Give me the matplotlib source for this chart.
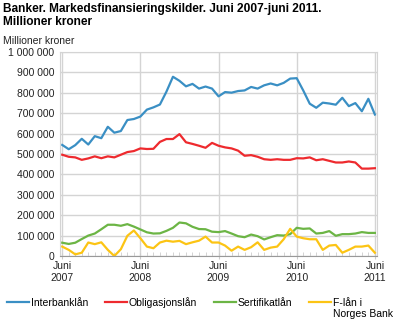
import matplotlib
matplotlib.use("Agg")
import matplotlib.pyplot as plt

plt.rcParams['font.family'] = ['Liberation Sans', 'DejaVu Sans']

# months from Juni 2007 to Juni 2011 (index 0..48), millioner kroner
months = list(range(49))
interbank = [544, 523, 543, 574, 546, 587, 577, 633, 604, 612, 666, 671, 683,
             717, 728, 742, 805, 878, 858, 831, 843, 820, 830, 820, 782,
             803, 800, 808, 811, 828, 820, 836, 845, 836, 848, 869, 871,
             811, 746, 726, 751, 747, 741, 775, 734, 749, 709, 770, 693]
obligasjon = [496, 486, 483, 471, 478, 488, 479, 488, 483, 496, 509, 514, 527,
              524, 525, 559, 573, 573, 597, 557, 549, 540, 530, 554, 540,
              532, 527, 516, 491, 494, 486, 474, 471, 474, 471, 471, 479,
              478, 483, 469, 474, 466, 458, 458, 463, 458, 428, 428, 430]
sertifikat = [65, 59, 65, 83, 100, 110, 131, 153, 153, 148, 156, 144, 130,
              116, 110, 111, 123, 138, 164, 160, 143, 132, 131, 119, 117,
              122, 110, 97, 92, 105, 97, 81, 92, 102, 100, 107, 138,
              133, 135, 110, 113, 122, 99, 107, 107, 110, 117, 113, 113]
flan = [46, 30, 8, 16, 66, 58, 67, 30, 0, 33, 99, 125, 87,
        46, 38, 66, 75, 70, 74, 58, 67, 75, 95, 66, 66,
        51, 26, 46, 30, 43, 67, 30, 41, 46, 82, 133, 95,
        87, 82, 82, 30, 51, 54, 16, 30, 46, 46, 51, 16]

series = [
    (interbank, '#3a8fc4', 'Interbanklån'),
    (obligasjon, '#ee2a2e', 'Obligasjonslån'),
    (sertifikat, '#6cb545', 'Sertifikatlån'),
    (flan, '#fcc414', 'F-lån i'),
]

xticks = [0, 12, 24, 36, 48]
xticklabels = ['Juni\n2007', 'Juni\n2008', 'Juni\n2009', 'Juni\n2010', 'Juni\n2011']
yticks = list(range(0, 1000001, 100000))
yticklabels = ['{:,}'.format(v).replace(',', ' ') for v in yticks]

fig = plt.figure(figsize=(3.97, 3.22), dpi=100)
ax = fig.add_axes([0.151, 0.205, 0.799, 0.634])

for vals, col, lab in series:
    ax.plot(months, [v * 1000 for v in vals], color=col, lw=1.6, label=lab,
            solid_joinstyle='round')

ax.set_xlim(-0.35, 48.35)
ax.set_ylim(0, 1000000)
ax.set_yticks(yticks)
ax.set_yticklabels(yticklabels, fontsize=7.5, color='#222222')
ax.set_xticks(xticks)
ax.set_xticklabels(xticklabels, fontsize=7.5, color='#222222', linespacing=1.25)
ax.set_xticks(months, minor=True)
ax.grid(True, which='major', color='#d4d4d4', lw=1.0)
ax.set_axisbelow(True)
ax.tick_params(axis='y', length=0, pad=4)
ax.tick_params(axis='x', which='major', direction='inout', length=5, color='#cccccc', pad=1)
ax.tick_params(axis='x', which='minor', direction='in', length=3, color='#cccccc')
for s in ['left', 'top', 'right']:
    ax.spines[s].set_color('#d4d4d4')
ax.spines['bottom'].set_color('#999999')

fig.text(0.008, 0.99, 'Banker. Markedsfinansieringskilder. Juni 2007-juni 2011.\nMillioner kroner',
         fontsize=8.6, fontweight='bold', va='top', ha='left', linespacing=1.1)
fig.text(0.008, 0.872, 'Millioner kroner', fontsize=7.5, va='center', ha='left', color='#222222')

leg = fig.legend(loc='upper left', bbox_to_anchor=(0.018, 0.078), ncol=4, frameon=False,
                 fontsize=7.5, handlelength=2.1, handletextpad=0.2, columnspacing=1.6,
                 borderaxespad=0, borderpad=0)
fig.canvas.draw()
bb = leg.get_texts()[-1].get_window_extent()
fig.text(bb.x0 / fig.bbox.width, (bb.y0 - 1.5) / fig.bbox.height, 'Norges Bank',
         fontsize=7.5, va='top', ha='left')

fig.savefig('out.png', dpi=100)
